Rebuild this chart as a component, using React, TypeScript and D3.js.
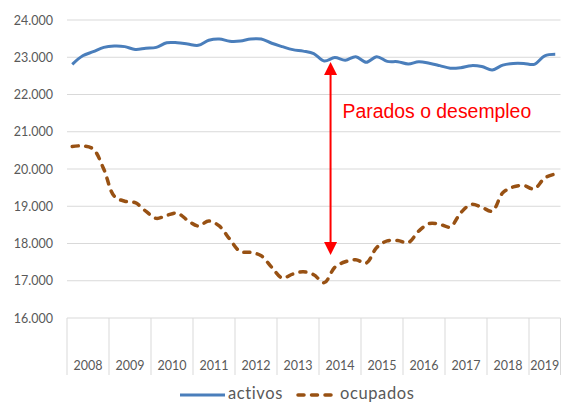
import React, { useRef, useEffect } from 'react';
import * as d3 from 'd3';

// quarterly series, thousands of people (2008T1 .. 2019T3)
const activos = [
  22810, 23040, 23150, 23265, 23300, 23285, 23210, 23240,
  23265, 23390, 23390, 23355, 23320, 23455, 23490, 23430,
  23435, 23490, 23490, 23375, 23285, 23205, 23165, 23100,
  22900, 22990, 22920, 23015, 22865, 23015, 22890, 22880,
  22820, 22880, 22840, 22775, 22705, 22720, 22775, 22750,
  22660, 22790, 22835, 22835, 22810, 23040, 23080,
];
const ocupados = [
  20605, 20620, 20535, 20000, 19270, 19135, 19095, 18870,
  18675, 18755, 18815, 18620, 18470, 18605, 18470, 18115,
  17785, 17760, 17670, 17360, 17075, 17180, 17240, 17160,
  16950, 17360, 17510, 17565, 17475, 17895, 18070, 18080,
  18025, 18335, 18535, 18515, 18445, 18825, 19050, 18975,
  18870, 19360, 19520, 19555, 19465, 19760, 19865,
];
const years = ['2008', '2009', '2010', '2011', '2012', '2013', '2014', '2015', '2016', '2017', '2018', '2019'];
const quartersPerYear = [4, 4, 4, 4, 4, 4, 4, 4, 4, 4, 4, 3];
const yTicks = [16000, 17000, 18000, 19000, 20000, 21000, 22000, 23000, 24000];
const annotation = { label: 'Parados o desempleo', quarter: 25.1, from: 22870, to: 17690, textAt: 21370 };

const App = () => {
  const ref = useRef<SVGSVGElement>(null);

  useEffect(() => {
    const svg = d3.select(ref.current);
    svg.selectAll('*').remove();

    const W = 565, H = 403;
    const left = 67, right = 560.5, top = 20, bottom = 318;
    const n = activos.length;

    const x = d3.scaleLinear().domain([0, n]).range([left, right]);
    const y = d3.scaleLinear().domain([16000, 24000]).range([bottom, top]);
    const fmt = (v: number) => d3.format(',')(v).replace(/,/g, '.');

    svg.attr('width', W).attr('height', H);
    svg.append('rect').attr('width', W).attr('height', H).attr('fill', '#fff');

    // horizontal grid
    svg.append('g')
      .selectAll('line')
      .data(yTicks)
      .join('line')
      .attr('x1', left).attr('x2', right)
      .attr('y1', d => y(d)).attr('y2', d => y(d))
      .attr('stroke', '#d9d9d9').attr('stroke-width', 1);

    // y labels
    svg.append('g')
      .selectAll('text')
      .data(yTicks)
      .join('text')
      .attr('x', 53).attr('y', d => y(d) + 4.5)
      .attr('text-anchor', 'end')
      .attr('font-family', 'Lato, sans-serif').attr('font-size', 12.5)
      .attr('fill', '#595959')
      .text(d => fmt(d));

    // year groups on category axis
    const starts = d3.cumsum([0, ...quartersPerYear]);
    svg.append('g')
      .selectAll('line')
      .data(starts)
      .join('line')
      .attr('x1', d => x(d)).attr('x2', d => x(d))
      .attr('y1', bottom).attr('y2', 375)
      .attr('stroke', '#d9d9d9').attr('stroke-width', 1);

    svg.append('g')
      .selectAll('text')
      .data(years)
      .join('text')
      .attr('x', (d, i) => x(starts[i] + quartersPerYear[i] / 2))
      .attr('y', 370)
      .attr('text-anchor', 'middle')
      .attr('font-family', 'Lato, sans-serif').attr('font-size', 12.5)
      .attr('fill', '#595959')
      .text(d => d);

    const line = d3.line<number>()
      .x((d, i) => x(i + 0.5))
      .y(d => y(d))
      .curve(d3.curveCatmullRom.alpha(0.5));

    svg.append('path')
      .attr('d', line(activos))
      .attr('fill', 'none')
      .attr('stroke', '#4a7ebb').attr('stroke-width', 3)
      .attr('stroke-linejoin', 'round');

    svg.append('path')
      .attr('d', line(ocupados))
      .attr('fill', 'none')
      .attr('stroke', '#985113').attr('stroke-width', 3.5)
      .attr('stroke-linecap', 'round')
      .attr('stroke-dasharray', '6,7.5');

    // annotation arrow
    const ax = x(annotation.quarter);
    const y1 = y(annotation.from), y2 = y(annotation.to);
    const head = 13, hw = 6.5;
    svg.append('line')
      .attr('x1', ax).attr('x2', ax)
      .attr('y1', y1 + head - 1).attr('y2', y2 - head + 1)
      .attr('stroke', '#ff0000').attr('stroke-width', 2);
    svg.append('path')
      .attr('d', `M${ax},${y1}L${ax - hw},${y1 + head}L${ax + hw},${y1 + head}Z`)
      .attr('fill', '#ff0000');
    svg.append('path')
      .attr('d', `M${ax},${y2}L${ax - hw},${y2 - head}L${ax + hw},${y2 - head}Z`)
      .attr('fill', '#ff0000');
    svg.append('text')
      .attr('x', ax + 12).attr('y', y(annotation.textAt))
      .attr('font-family', '"Liberation Sans", Arial, sans-serif').attr('font-size', 19.4)
      .attr('fill', '#ff0000')
      .text(annotation.label);

    // legend
    const lg = svg.append('g').attr('font-family', 'Lato, sans-serif').attr('font-size', 16.5).attr('fill', '#595959');
    lg.append('line')
      .attr('x1', 180).attr('x2', 225).attr('y1', 395).attr('y2', 395)
      .attr('stroke', '#4a7ebb').attr('stroke-width', 3);
    lg.append('text').attr('x', 228).attr('y', 399).attr('letter-spacing', 0.6).text('activos');
    lg.append('line')
      .attr('x1', 298).attr('x2', 333).attr('y1', 395).attr('y2', 395)
      .attr('stroke', '#985113').attr('stroke-width', 3.5)
      .attr('stroke-linecap', 'round').attr('stroke-dasharray', '6,7.5');
    lg.append('text').attr('x', 340).attr('y', 399).attr('letter-spacing', 0.6).text('ocupados');
  }, []);

  return <svg ref={ref} style={{ position: 'absolute', left: 0, top: 0 }} />;
};

export default App;
